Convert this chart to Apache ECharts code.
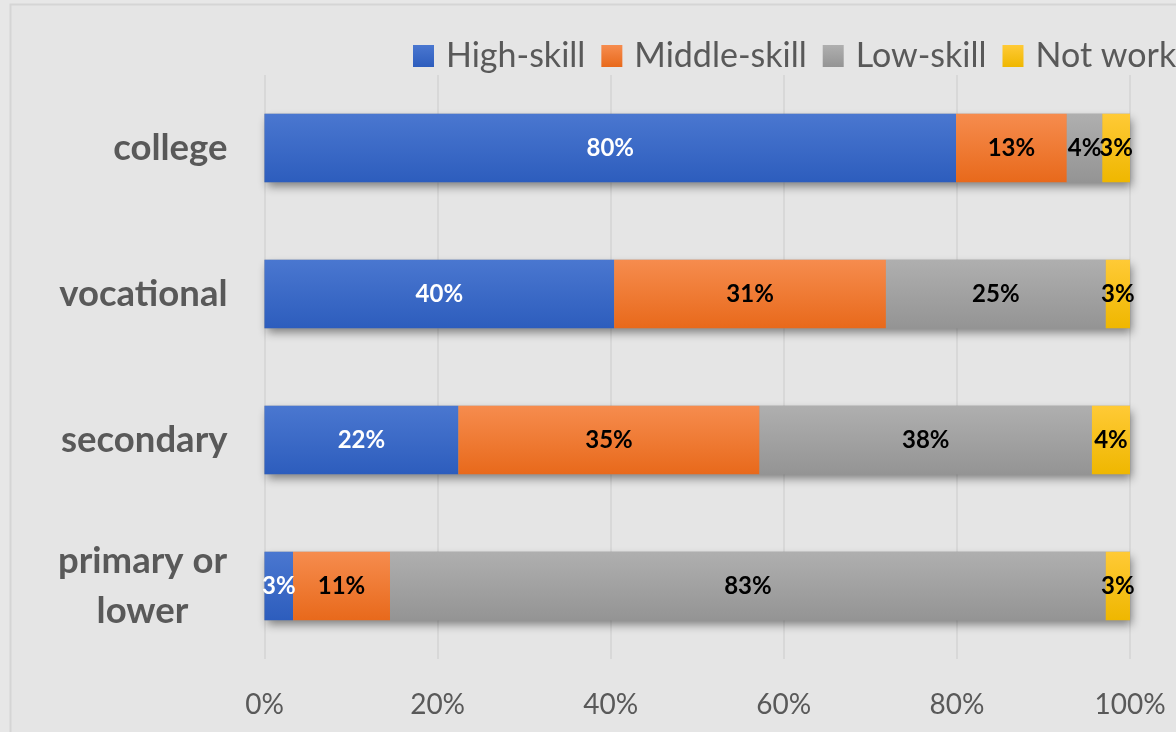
<!DOCTYPE html>
<html>
<head>
<meta charset="utf-8">
<script src="https://cdn.jsdelivr.net/npm/echarts@6/dist/echarts.min.js"></script>
<style>
  html, body { margin: 0; padding: 0; background: #e7e7e7; }
  #chart { width: 1176px; height: 732px; }
</style>
</head>
<body>
<div id="chart"></div>
<script>
// Occupation skill level by education attainment (shares of each row, %)
const categories = ['college', 'vocational', 'secondary', 'primary or\nlower'];
const seriesNames = ['High-skill', 'Middle-skill', 'Low-skill', 'Not working'];
const highSkill   = [79.9, 40.4, 22.4, 3.3];
const middleSkill = [12.8, 31.4, 34.8, 11.2];
const lowSkill    = [4.1, 25.4, 38.4, 82.7];
const notWorking  = [3.2, 2.8, 4.4, 2.8];
const axisTicks = [0, 20, 40, 60, 80, 100];

const values = [highSkill, middleSkill, lowSkill, notWorking];
const totals = categories.map((_, i) => values.reduce((s, arr) => s + arr[i], 0));

const FONT = 'Lato, "Open Sans", sans-serif';
const TEXT_GRAY = '#595959';

function grad(top, bottom) {
  return new echarts.graphic.LinearGradient(0, 0, 0, 1, [
    { offset: 0, color: top },
    { offset: 1, color: bottom }
  ]);
}
const fills = [
  grad('#4a77d0', '#2d5dbd'),
  grad('#f68c4e', '#e8691b'),
  grad('#afafaf', '#949494'),
  grad('#ffca36', '#efb700')
];
const labelColors = ['#ffffff', '#000000', '#000000', '#000000'];

const chart = echarts.init(document.getElementById('chart'), null, { renderer: 'canvas' });

const stacked = values.map((arr, k) => ({
  name: seriesNames[k],
  type: 'bar',
  stack: 'total',
  data: arr,
  barCategoryGap: '53%',
  barGap: '-100%',
  itemStyle: { color: fills[k] },
  emphasis: { disabled: true },
  label: {
    show: true,
    position: 'inside',
    color: labelColors[k],
    fontFamily: FONT,
    fontWeight: 'bold',
    fontSize: 24,
    formatter: p => Math.round(p.value) + '%'
  }
}));

// soft drop shadow behind each full row
const backing = {
  name: 'rowShadow',
  type: 'bar',
  data: totals,
  silent: true,
  barCategoryGap: '53%',
  barGap: '-100%',
  itemStyle: {
    color: '#9a9a9a',
    shadowColor: 'rgba(0,0,0,0.45)',
    shadowBlur: 9,
    shadowOffsetX: 2,
    shadowOffsetY: 5
  },
  label: { show: false },
  emphasis: { disabled: true },
  z: 1
};

chart.setOption({
  backgroundColor: '#e7e7e7',
  animation: false,
  graphic: [{
    type: 'rect',
    shape: { x: 10.5, y: 4.5, width: 1200, height: 760 },
    style: { fill: '#e5e5e5', stroke: '#d5d5d5', lineWidth: 2 },
    z: -10,
    silent: true
  }],
  legend: {
    data: seriesNames,
    left: 413,
    top: 39,
    width: 1000,
    padding: 0,
    itemWidth: 21,
    itemHeight: 22,
    itemGap: 16,
    icon: 'rect',
    selectedMode: false,
    textStyle: {
      fontFamily: FONT,
      fontSize: 34,
      color: TEXT_GRAY,
      padding: [0, 0, 0, 7]
    }
  },
  grid: {
    left: 264.5,
    right: 46,
    top: 75,
    bottom: 73,
    containLabel: false
  },
  xAxis: {
    type: 'value',
    min: axisTicks[0],
    max: axisTicks[axisTicks.length - 1],
    interval: axisTicks[1] - axisTicks[0],
    axisLine: { show: false },
    axisTick: { show: false },
    splitLine: { show: true, lineStyle: { color: '#d3d3d3', width: 1.5 } },
    axisLabel: {
      margin: 32,
      fontFamily: FONT,
      fontSize: 28,
      color: TEXT_GRAY,
      formatter: '{value}%'
    }
  },
  yAxis: {
    type: 'category',
    inverse: true,
    data: categories,
    axisLine: { show: false },
    axisTick: { show: false },
    splitLine: { show: false },
    axisLabel: {
      margin: 37,
      fontFamily: FONT,
      fontSize: 36.5,
      fontWeight: 'bold',
      color: TEXT_GRAY,
      lineHeight: 50,
      formatter: v => v.indexOf('\n') >= 0
        ? v.split('\n').map(s => '{c|' + s + '}').join('\n')
        : v,
      rich: {
        c: {
          width: 170,
          align: 'center',
          fontFamily: FONT,
          fontSize: 36.5,
          fontWeight: 'bold',
          color: TEXT_GRAY,
          lineHeight: 50
        }
      }
    }
  },
  series: [backing].concat(stacked)
});
</script>
</body>
</html>
